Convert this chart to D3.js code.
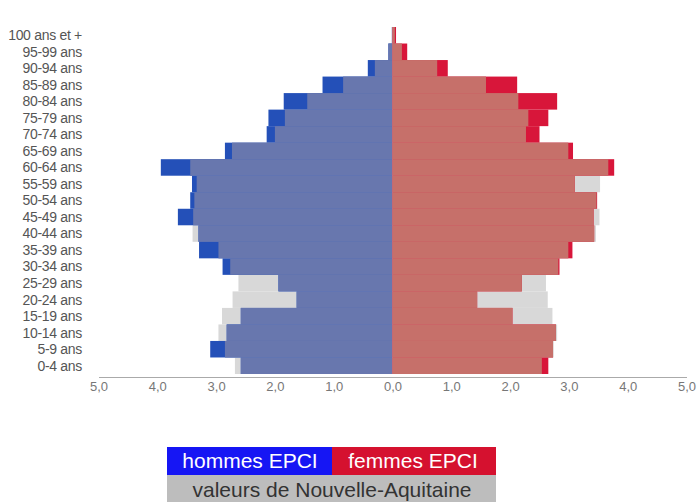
<!DOCTYPE html>
<html>
<head>
<meta charset="utf-8">
<script src="https://cdn.jsdelivr.net/npm/d3@7"></script>
<style>
  body { margin: 0; background: #fff; }
  text { font-family: "Liberation Sans", Arial, sans-serif; }
</style>
</head>
<body>
<svg width="697" height="502"></svg>
<script>
// age groups, bottom to top
var ages = ["0-4 ans", "5-9 ans", "10-14 ans", "15-19 ans", "20-24 ans", "25-29 ans",
  "30-34 ans", "35-39 ans", "40-44 ans", "45-49 ans", "50-54 ans", "55-59 ans",
  "60-64 ans", "65-69 ans", "70-74 ans", "75-79 ans", "80-84 ans", "85-89 ans",
  "90-94 ans", "95-99 ans", "100 ans et +"];

// % of population
var hommesEPCI = [2.58, 3.10, 2.82, 2.58, 1.63, 1.94, 2.89, 3.29, 3.30, 3.65, 3.44, 3.41,
  3.94, 2.85, 2.14, 2.11, 1.85, 1.19, 0.42, 0.07, 0.01];
var hommesNA = [2.68, 2.85, 2.96, 2.90, 2.72, 2.62, 2.76, 2.96, 3.40, 3.39, 3.37, 3.33,
  3.44, 2.73, 2.00, 1.83, 1.45, 0.84, 0.30, 0.07, 0.01];
var femmesEPCI = [2.65, 2.73, 2.78, 2.04, 1.44, 2.20, 2.84, 3.06, 3.43, 3.42, 3.48, 3.10,
  3.77, 3.07, 2.50, 2.65, 2.80, 2.12, 0.94, 0.25, 0.06];
var femmesNA = [2.54, 2.74, 2.80, 2.72, 2.64, 2.61, 2.82, 2.99, 3.46, 3.52, 3.47, 3.53,
  3.67, 2.99, 2.27, 2.31, 2.14, 1.59, 0.76, 0.16, 0.04];

var tickValues = [-5, -4, -3, -2, -1, 0, 1, 2, 3, 4, 5];

var data = ages.map(function(a, i) {
  return { age: a, hE: hommesEPCI[i], hN: hommesNA[i], fE: femmesEPCI[i], fN: femmesNA[i] };
});

var svg = d3.select("svg");

var x = d3.scaleLinear().domain([-5, 5]).range([98.5, 686.5]);
var y = d3.scaleBand()
  .domain(ages.slice().reverse())
  .range([27, 374])
  .padding(0);

var grey = "#d8d8d8";

// one side of the pyramid: NA bar (grey), EPCI bar (strong colour), overlap (muted)
function side(key, sign, strong, muted) {
  var g = svg.append("g");
  var layers = [
    { v: function(d) { return d[key + "N"]; }, c: grey },
    { v: function(d) { return d[key + "E"]; }, c: strong },
    { v: function(d) { return Math.min(d[key + "N"], d[key + "E"]); }, c: muted }
  ];
  layers.forEach(function(l) {
    g.selectAll(null)
      .data(data)
      .enter()
      .append("rect")
      .attr("x", function(d) { return sign < 0 ? x(-l.v(d)) : x(0); })
      .attr("y", function(d) { return y(d.age); })
      .attr("width", function(d) { return Math.abs(x(l.v(d)) - x(0)); })
      .attr("height", y.bandwidth())
      .attr("fill", l.c);
  });
}

side("h", -1, "#2450b8", "#6877ae");
side("f", 1, "#d8163a", "#c6706a");

// age labels
svg.append("g")
  .selectAll("text")
  .data(ages)
  .enter()
  .append("text")
  .attr("x", 82)
  .attr("y", function(d) { return y(d) + y.bandwidth() / 2; })
  .attr("dy", "0.35em")
  .attr("text-anchor", "end")
  .attr("fill", "#555")
  .style("font-size", "14px")
  .style("letter-spacing", "-0.3px")
  .text(function(d) { return d; });

// axis
var axis = svg.append("g")
  .attr("transform", "translate(0,377)")
  .call(d3.axisBottom(x)
    .tickValues(tickValues)
    .tickSize(0)
    .tickPadding(5)
    .tickFormat(function(d) { return d3.format(".1f")(Math.abs(d)).replace(".", ","); }));
axis.select(".domain").attr("stroke", "#aaa");
axis.selectAll("text")
  .attr("fill", "#777")
  .style("font-size", "13px")
  .style("font-family", "Liberation Sans, Arial, sans-serif");

// legend
var legend = svg.append("g");
legend.append("rect").attr("x", 167).attr("y", 447).attr("width", 165).attr("height", 28).attr("fill", "#1616f4");
legend.append("rect").attr("x", 332).attr("y", 447).attr("width", 164).attr("height", 28).attr("fill", "#d5112f");
legend.append("rect").attr("x", 167).attr("y", 475).attr("width", 329).attr("height", 27).attr("fill", "#bdbdbd");
legend.append("text").attr("x", 250).attr("y", 468).attr("text-anchor", "middle")
  .attr("fill", "#fff").style("font-size", "21px").text("hommes EPCI");
legend.append("text").attr("x", 413).attr("y", 468).attr("text-anchor", "middle")
  .attr("fill", "#fff").style("font-size", "21px").text("femmes EPCI");
legend.append("text").attr("x", 332).attr("y", 497).attr("text-anchor", "middle")
  .attr("fill", "#333").style("font-size", "21px").text("valeurs de Nouvelle-Aquitaine");
</script>
</body>
</html>
